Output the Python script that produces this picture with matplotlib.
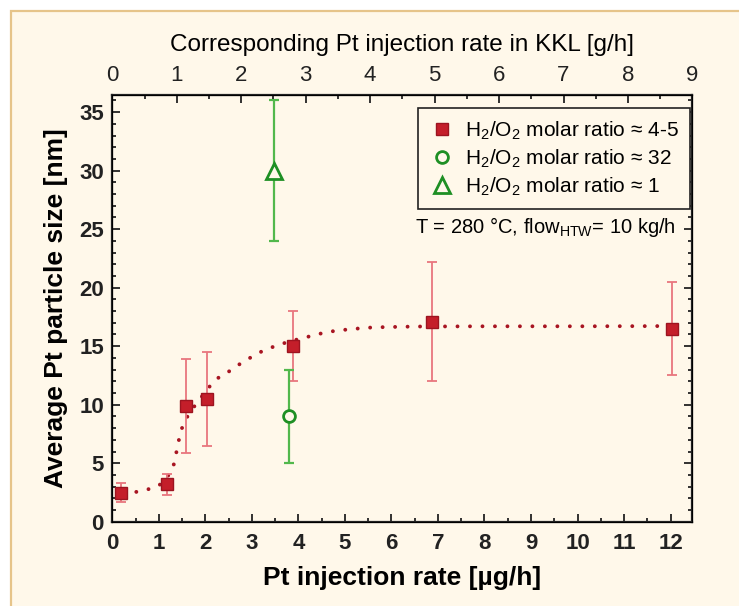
import matplotlib
matplotlib.use('Agg')
import matplotlib.pyplot as plt
from matplotlib.patches import Rectangle
from matplotlib.ticker import MultipleLocator

# data
rate_45 = [0.18, 1.18, 1.58, 2.04, 3.89, 6.88, 12.04]
size_45 = [2.5, 3.2, 9.9, 10.5, 15.0, 17.1, 16.5]
err_45 = [0.8, 0.9, 4.0, 4.0, 3.0, 5.1, 4.0]

rate_32 = [3.79]
size_32 = [9.0]
err_32 = [4.0]

rate_1 = [3.48]
size_1 = [30.0]
err_1 = [6.0]

# dotted trend line
fit_x = [0.25, 0.45, 0.7, 0.97, 1.15, 1.31, 1.37, 1.42, 1.48, 1.6, 1.77, 2.1,
         2.28, 2.51, 2.75, 2.98, 3.21, 3.46, 3.8, 4.25, 4.5, 4.77, 5.04, 5.31,
         5.58, 5.85, 6.5, 8.0, 10.0, 12.0]
fit_y = [2.4, 2.5, 2.7, 3.0, 3.6, 4.7, 5.8, 6.8, 7.85, 8.9, 9.9, 11.6,
         12.3, 12.85, 13.5, 14.05, 14.55, 14.95, 15.4, 15.85, 16.1, 16.3, 16.42, 16.52,
         16.6, 16.63, 16.68, 16.7, 16.7, 16.72]

x_max = 12.47      # µg/h at right spine
top_max = 9        # g/h at right spine

bg = '#fff8ea'
red = '#c41e2a'
red_edge = '#9c1420'
red_err = '#e8767e'
green = '#1e8f24'
green_err = '#52b84c'
ink = '#222222'

plt.rcParams['font.family'] = ['Liberation Sans', 'DejaVu Sans']
plt.rcParams['mathtext.fontset'] = 'custom'
plt.rcParams['mathtext.rm'] = 'Liberation Sans'

fig = plt.figure(figsize=(7.39, 6.06), dpi=100, facecolor='white')
# cream panel with tan border, runs off the right and bottom edges
fig.patches.append(Rectangle((10.5 / 739, -0.1), 1.2, 1.1 - 10.5 / 606, transform=fig.transFigure,
                             facecolor=bg, edgecolor='#e6c48a', linewidth=1.6, zorder=-10))

ax = fig.add_axes([0.152, 0.139, 0.785, 0.705])
ax.set_facecolor(bg)

ax.plot(fit_x, fit_y, color='#a81522', linestyle=(0, (0.01, 3.2)), linewidth=2.8,
        dash_capstyle='round', zorder=2)

ax.errorbar(rate_45, size_45, yerr=err_45, fmt='none', ecolor=red_err, elinewidth=1.3,
            capsize=3.5, capthick=1.3, zorder=3)
ax.errorbar(rate_32, size_32, yerr=err_32, fmt='none', ecolor=green_err, elinewidth=1.6,
            capsize=3.5, capthick=1.6, zorder=3)
ax.errorbar(rate_1, size_1, yerr=err_1, fmt='none', ecolor=green_err, elinewidth=1.6,
            capsize=3.5, capthick=1.6, zorder=3)

h1, = ax.plot(rate_45, size_45, 's', ms=9, color=red, mec=red_edge, mew=1,
              linestyle='none', zorder=4)
h2, = ax.plot(rate_32, size_32, 'o', ms=8.5, mfc=bg, mec=green, mew=2,
              linestyle='none', zorder=4)
h3, = ax.plot(rate_1, size_1, '^', ms=11, mfc=bg, mec=green, mew=2,
              linestyle='none', zorder=4)

ax.set_xlim(0, x_max)
ax.set_ylim(0, 36.5)
ax.xaxis.set_major_locator(MultipleLocator(1))
ax.xaxis.set_minor_locator(MultipleLocator(0.5))
ax.yaxis.set_major_locator(MultipleLocator(5))
ax.yaxis.set_minor_locator(MultipleLocator(1))
ax.tick_params(which='both', direction='in', right=True, width=1.3, colors=ink)
ax.tick_params(which='major', length=6, labelsize=16, pad=6)
ax.tick_params(axis='x', which='major', pad=8)
ax.tick_params(which='minor', length=3)
for lbl in ax.get_xticklabels() + ax.get_yticklabels():
    lbl.set_fontweight('bold')
for sp in ax.spines.values():
    sp.set_linewidth(1.6)
    sp.set_color(ink)

ax.set_xlabel('Pt injection rate [µg/h]', fontsize=19, fontweight='bold', labelpad=9)
ax.set_ylabel('Average Pt particle size [nm]', fontsize=19, fontweight='bold', labelpad=8)

# top axis in g/h
top = ax.twiny()
top.set_xlim(0, top_max)
top.xaxis.set_major_locator(MultipleLocator(1))
top.xaxis.set_minor_locator(MultipleLocator(0.5))
top.tick_params(which='both', direction='in', width=1.3, colors=ink)
top.tick_params(which='major', length=6, labelsize=16, pad=6)
top.tick_params(which='minor', length=3)
top.set_xlabel('Corresponding Pt injection rate in KKL [g/h]', fontsize=17.5, labelpad=10)

leg = ax.legend([h1, h2, h3],
                [r'H$_2$/O$_2$ molar ratio ≈ 4-5',
                 r'H$_2$/O$_2$ molar ratio ≈ 32',
                 r'H$_2$/O$_2$ molar ratio ≈ 1'],
                loc='upper right', bbox_to_anchor=(0.996, 0.968), borderaxespad=0,
                fontsize=15, frameon=True, fancybox=False, handletextpad=0.5,
                handlelength=1.2, borderpad=0.55, labelspacing=0.25)
leg.get_frame().set_edgecolor(ink)
leg.get_frame().set_facecolor(bg)
leg.get_frame().set_linewidth(1.2)
leg.get_frame().set_alpha(1)

ax.text(0.972, 0.69, r'T = 280 °C, flow$_{\mathrm{HTW}}$= 10 kg/h', transform=ax.transAxes,
        ha='right', va='center', fontsize=14.5)

fig.savefig('out.png', dpi=100, facecolor=fig.get_facecolor())
